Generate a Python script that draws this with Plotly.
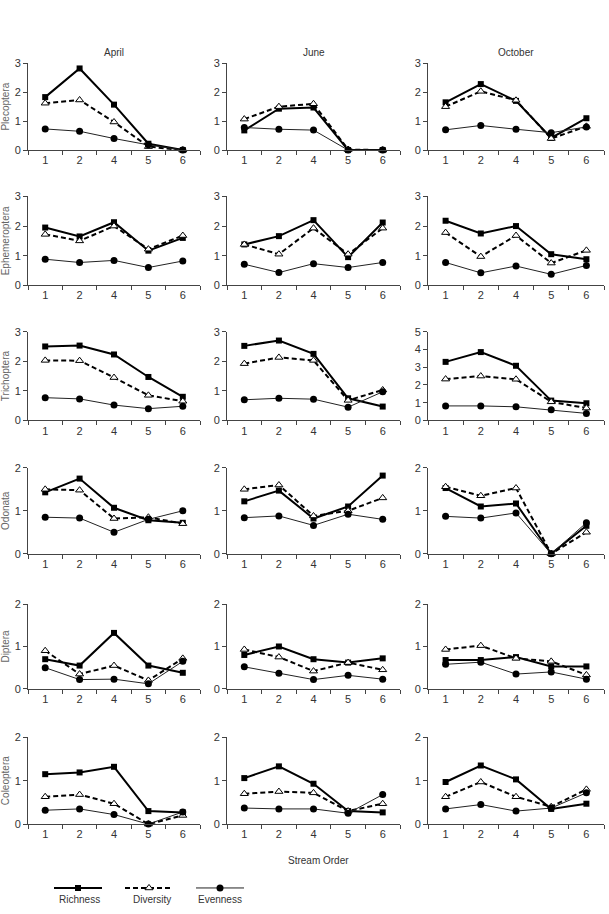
import plotly.graph_objects as go

stream_order = ["1", "2", "4", "5", "6"]
months = ["April", "June", "October"]
taxa = ["Plecoptera", "Ephemeroptera", "Trichoptera", "Odonata", "Diptera", "Coleoptera"]
y_max = [[3, 3, 3], [3, 3, 3], [3, 3, 5], [2, 2, 2], [2, 2, 2], [2, 2, 2]]

# Richness / Diversity / Evenness per taxon, per month (April, June, October)
plecoptera_richness = [[1.83, 2.82, 1.57, 0.22, 0.0], [0.68, 1.43, 1.47, 0.0, 0.0], [1.65, 2.28, 1.70, 0.42, 1.10]]
plecoptera_diversity = [[1.62, 1.73, 0.97, 0.12, 0.0], [1.07, 1.50, 1.60, 0.02, 0.0], [1.50, 2.03, 1.72, 0.40, 0.82]]
plecoptera_evenness = [[0.73, 0.65, 0.40, 0.18, 0.0], [0.78, 0.72, 0.69, 0.0, 0.0], [0.70, 0.85, 0.72, 0.60, 0.80]]

ephemeroptera_richness = [[1.95, 1.65, 2.13, 1.17, 1.60], [1.38, 1.66, 2.20, 0.95, 2.12], [2.18, 1.75, 2.00, 1.05, 0.88]]
ephemeroptera_diversity = [[1.72, 1.50, 2.00, 1.22, 1.68], [1.38, 1.05, 1.93, 1.05, 1.93], [1.78, 0.97, 1.68, 0.75, 1.18]]
ephemeroptera_evenness = [[0.88, 0.77, 0.84, 0.60, 0.82], [0.71, 0.43, 0.73, 0.60, 0.77], [0.77, 0.42, 0.65, 0.37, 0.67]]

trichoptera_richness = [[2.50, 2.53, 2.23, 1.47, 0.80], [2.52, 2.70, 2.25, 0.75, 0.47], [3.30, 3.85, 3.08, 1.12, 0.97]]
trichoptera_diversity = [[2.03, 2.02, 1.45, 0.85, 0.65], [1.92, 2.13, 2.03, 0.68, 1.03], [2.33, 2.50, 2.32, 1.05, 0.70]]
trichoptera_evenness = [[0.77, 0.73, 0.52, 0.40, 0.48], [0.70, 0.75, 0.72, 0.45, 0.97], [0.82, 0.82, 0.77, 0.60, 0.40]]

odonata_richness = [[1.43, 1.75, 1.07, 0.78, 0.72], [1.22, 1.47, 0.82, 1.10, 1.82], [1.53, 1.10, 1.17, 0.0, 0.65]]
odonata_diversity = [[1.50, 1.48, 0.82, 0.85, 0.70], [1.50, 1.60, 0.88, 1.00, 1.30], [1.56, 1.35, 1.53, 0.0, 0.50]]
odonata_evenness = [[0.85, 0.83, 0.50, 0.80, 1.00], [0.84, 0.88, 0.66, 0.92, 0.80], [0.87, 0.83, 0.95, 0.0, 0.72]]

diptera_richness = [[0.70, 0.55, 1.32, 0.55, 0.38], [0.80, 1.00, 0.70, 0.62, 0.72], [0.68, 0.68, 0.75, 0.53, 0.53]]
diptera_diversity = [[0.90, 0.35, 0.55, 0.20, 0.72], [0.93, 0.75, 0.42, 0.62, 0.45], [0.93, 1.02, 0.72, 0.65, 0.33]]
diptera_evenness = [[0.50, 0.22, 0.23, 0.12, 0.65], [0.52, 0.37, 0.22, 0.32, 0.23], [0.58, 0.63, 0.35, 0.40, 0.23]]

coleoptera_richness = [[1.15, 1.19, 1.32, 0.30, 0.27], [1.06, 1.33, 0.93, 0.30, 0.27], [0.97, 1.35, 1.03, 0.35, 0.47]]
coleoptera_diversity = [[0.63, 0.68, 0.47, 0.0, 0.20], [0.70, 0.75, 0.72, 0.30, 0.47], [0.63, 0.97, 0.63, 0.40, 0.80]]
coleoptera_evenness = [[0.32, 0.35, 0.22, 0.0, 0.28], [0.37, 0.35, 0.35, 0.25, 0.68], [0.35, 0.45, 0.30, 0.37, 0.72]]

richness = [plecoptera_richness, ephemeroptera_richness, trichoptera_richness,
            odonata_richness, diptera_richness, coleoptera_richness]
diversity = [plecoptera_diversity, ephemeroptera_diversity, trichoptera_diversity,
             odonata_diversity, diptera_diversity, coleoptera_diversity]
evenness = [plecoptera_evenness, ephemeroptera_evenness, trichoptera_evenness,
            odonata_evenness, diptera_evenness, coleoptera_evenness]

W, H = 609, 914
FONT = "Liberation Sans, Arial, sans-serif"
AXIS_COL = "#444444"
TICK_COL = "#333333"

col_px = [(28, 200), (227, 400), (428, 604)]
row_px = [(58, 146), (193, 283), (330, 420), (468, 555), (606, 692), (741, 829)]

fig = go.Figure()
layout = dict(
    width=W, height=H, margin=dict(l=0, r=0, t=0, b=0),
    paper_bgcolor="white", plot_bgcolor="white",
    font=dict(family=FONT, size=11, color=TICK_COL),
    showlegend=True,
)
annotations = []

idx = 0
for r in range(6):
    for c in range(3):
        idx += 1
        xa = "x" if idx == 1 else f"x{idx}"
        ya = "y" if idx == 1 else f"y{idx}"
        xk = "xaxis" if idx == 1 else f"xaxis{idx}"
        yk = "yaxis" if idx == 1 else f"yaxis{idx}"
        x0, x1 = col_px[c]
        yt, yb = row_px[r]
        layout[xk] = dict(
            domain=[x0 / W, x1 / W], anchor=ya, type="category",
            categoryorder="array", categoryarray=stream_order,
            range=[-0.5, 4.5], showgrid=False, zeroline=False,
            showline=True, linecolor=AXIS_COL, linewidth=1,
            ticks="outside", tickson="boundaries", ticklen=4, tickcolor=AXIS_COL,
            tickfont=dict(size=11, color=TICK_COL), fixedrange=True,
        )
        ymax = y_max[r][c]
        ydict = dict(
            domain=[1 - yb / H, 1 - yt / H], anchor=xa,
            range=[0, ymax], dtick=1, tick0=0, showgrid=False, zeroline=False,
            showline=True, linecolor=AXIS_COL, linewidth=1,
            ticks="outside", ticklen=4, tickcolor=AXIS_COL,
            tickfont=dict(size=11, color=TICK_COL), fixedrange=True,
        )
        if c == 0:
            ydict["title"] = dict(text=taxa[r], font=dict(size=10, color="#666666"), standoff=4)
        layout[yk] = ydict

        first = (idx == 1)
        fig.add_trace(go.Scatter(
            x=stream_order, y=richness[r][c], xaxis=xa, yaxis=ya,
            mode="lines+markers", name=" ", legendgroup="R", showlegend=first,
            line=dict(color="black", width=2),
            marker=dict(symbol="square", size=6, color="black"),
            cliponaxis=False, hoverinfo="y",
        ))
        fig.add_trace(go.Scatter(
            x=stream_order, y=diversity[r][c], xaxis=xa, yaxis=ya,
            mode="lines+markers", name=" ", legendgroup="D", showlegend=first,
            line=dict(color="black", width=2, dash="5px,3px"),
            marker=dict(symbol="triangle-up", size=7, color="white",
                        line=dict(color="black", width=1)),
            cliponaxis=False, hoverinfo="y",
        ))
        fig.add_trace(go.Scatter(
            x=stream_order, y=evenness[r][c], xaxis=xa, yaxis=ya,
            mode="lines+markers", name=" ", legendgroup="E", showlegend=first,
            line=dict(color="#222222", width=1),
            marker=dict(symbol="circle", size=7, color="black"),
            cliponaxis=False, hoverinfo="y",
        ))

for c, m in enumerate(months):
    x0, x1 = col_px[c]
    annotations.append(dict(
        text=m, xref="paper", yref="paper", x=(x0 + x1) / 2 / W, y=1 - 47 / H,
        showarrow=False, font=dict(size=10, color=TICK_COL), xanchor="center", yanchor="middle",
    ))

annotations.append(dict(
    text="Stream Order", xref="paper", yref="paper", x=318 / W, y=1 - 866 / H,
    showarrow=False, font=dict(size=10, color=TICK_COL), xanchor="center", yanchor="middle",
))

legend_names = ["Richness", "Diversity", "Evenness"]
legend_cx = [79, 152, 220]
for name, cx in zip(legend_names, legend_cx):
    annotations.append(dict(
        text=name, xref="paper", yref="paper", x=cx / W, y=1 - 905 / H,
        showarrow=False, font=dict(size=10, color=TICK_COL), xanchor="center", yanchor="middle",
    ))

layout["annotations"] = annotations
layout["legend"] = dict(
    orientation="h", x=49 / W, y=1 - 879 / H, xanchor="left", yanchor="top",
    itemwidth=48, entrywidth=8, entrywidthmode="pixels",
    font=dict(size=10), bgcolor="rgba(0,0,0,0)", itemclick=False, itemdoubleclick=False,
)
fig.update_layout(**layout)
fig.write_html("out.html")
